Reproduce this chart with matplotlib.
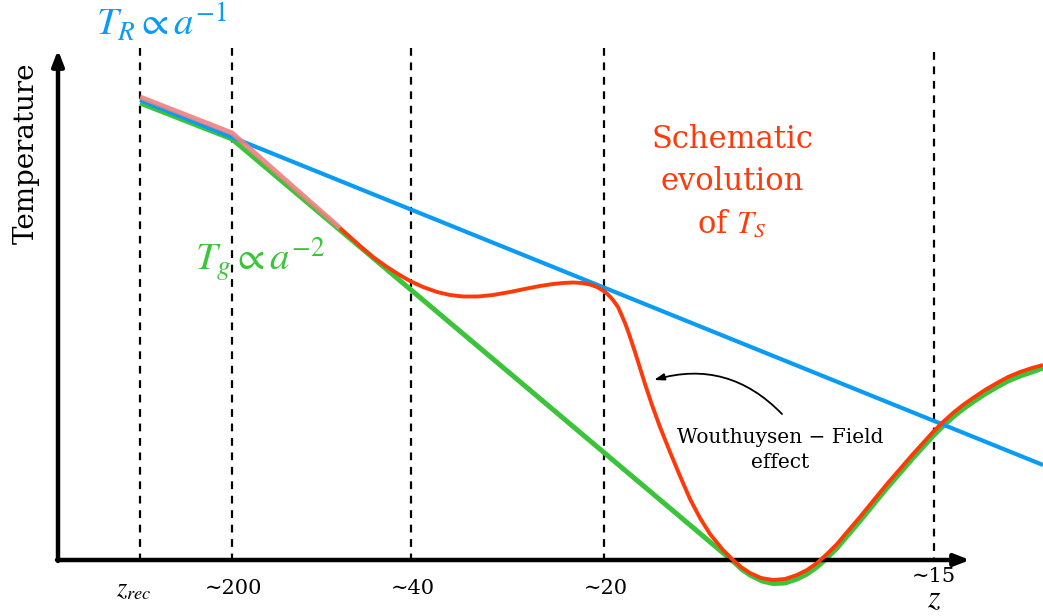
"""Schematic spin-temperature evolution sketch (T_R, T_g, T_S vs z)."""
import matplotlib.pyplot as plt

plt.rcParams["mathtext.fontset"] = "stix"

# canvas is drawn in pixel units (y grows downwards)
W, H = 1043, 616

BLUE = "#0a9bf5"
GREEN = "#3ac43a"
RED = "#ff3a0a"
PINK = "#f08080"

# redshift markers
marker_x = [140, 232, 411, 604, 934]
marker_labels = [r"$z_{rec}$", "∼200", "∼40", "∼20", "∼15"]

# radiation temperature, T_R ~ a^-1
tr_x = [140, 1043]
tr_y = [100, 465]

# gas temperature, T_g ~ a^-2 then heating
tg_x = [140, 232, 735, 742, 750, 762, 773, 785, 797, 807, 817, 827, 837, 848,
        860, 873, 887, 900, 913, 923, 933, 943, 953, 963, 973, 985, 997, 1008,
        1020, 1032, 1043]
tg_y = [103, 139, 563, 569.5, 575, 581, 583.5, 583, 579, 574, 567, 558, 548,
        535, 521, 505, 488, 473, 458, 447, 436, 426, 417, 409, 402, 394, 387,
        381, 376, 372, 368]

# spin temperature, coupled part (faded)
ts_early_x = [140, 232, 340]
ts_early_y = [97, 133, 228]

# spin temperature, schematic evolution
ts_x = [340, 350, 360, 373, 387, 398, 410, 423, 437, 450, 463, 478, 493, 510,
        527, 540, 553, 563, 573, 582, 590, 597, 603, 608, 613, 618, 622, 625,
        628, 631, 635, 640, 645, 652, 660, 670, 680, 690, 700, 710, 723, 733,
        741, 750, 761, 773, 785, 797, 807, 817, 827, 837, 848, 860, 873, 887,
        900, 913, 923, 933, 943, 953, 963, 973, 985, 997, 1008, 1020, 1032,
        1043]
ts_y = [228, 237, 246, 257, 267, 274, 281, 287, 292, 295, 296.5, 296.5, 295,
        292, 288.5, 286, 284, 283, 282.5, 283, 284.5, 287, 290.5, 294.5, 300,
        307, 316, 323, 331, 340, 352, 368, 384, 405, 427, 452, 476, 499, 518,
        534, 550, 560, 567, 573, 578, 580, 579, 575, 570, 563, 554, 544, 531,
        517, 501, 484, 469, 454, 443, 432, 422, 413, 405, 398, 390, 383, 377,
        372, 368, 365]

fig = plt.figure(figsize=(W / 100, H / 100), dpi=100)
ax = fig.add_axes([0, 0, 1, 1])
ax.set_xlim(0, W)
ax.set_ylim(H, 0)
ax.axis("off")

serif = ["DejaVu Serif"]

# axes arrows
arrow = dict(arrowstyle="-|>,head_length=0.9,head_width=0.35", lw=3.2,
             color="black", shrinkA=0, shrinkB=0)
ax.annotate("", xy=(58, 50), xytext=(58, 561), arrowprops=arrow)
ax.annotate("", xy=(970, 560), xytext=(57, 560), arrowprops=arrow)

for x, lab in zip(marker_x, marker_labels):
    top = 52 if x == 934 else 48
    ax.plot([x, x], [top, 560], ls=(0, (3.5, 3)), color="black", lw=1.6, zorder=1)
    if x == 934:
        ax.text(x, 576, lab, ha="center", va="center", fontsize=15, family=serif)
    elif x == 140:
        ax.text(x - 6, 589, lab, ha="center", va="center", fontsize=19)
    else:
        ax.text(x + 2, 589, lab, ha="center", va="center", fontsize=15, family=serif)

ax.text(934, 614, r"$z$", ha="center", va="bottom", fontsize=23)

ax.plot(tr_x, tr_y, color=BLUE, lw=3, zorder=3, solid_capstyle="butt")
ax.plot(tg_x, tg_y, color=GREEN, lw=3.6, zorder=2, solid_capstyle="butt",
        solid_joinstyle="round")
ax.plot(ts_early_x, ts_early_y, color=PINK, lw=3.6, zorder=4, alpha=0.9,
        solid_capstyle="butt")
ax.plot(ts_x, ts_y, color=RED, lw=2.8, zorder=5, solid_capstyle="butt",
        solid_joinstyle="round")

# labels
ax.text(26, 153, "Temperature", rotation=90, ha="center", va="center",
        fontsize=20, family=serif)
ax.text(162, 22, r"$T_R \propto a^{-1}$", color=BLUE, ha="center",
        va="center", fontsize=28)
ax.text(260, 260, r"$T_g \propto a^{-2}$", color=GREEN, ha="center",
        va="center", fontsize=28)
ax.text(732, 182, "Schematic\nevolution\nof $T_S$", color=RED, ha="center",
        va="center", fontsize=22, family=serif, linespacing=1.45)
ax.text(780, 450, "Wouthuysen − Field\neffect", ha="center", va="center",
        fontsize=14.5, family=serif, linespacing=1.4)
ax.annotate("", xy=(654, 380), xytext=(782, 414),
            arrowprops=dict(arrowstyle="-|>,head_length=0.6,head_width=0.2",
                            lw=1.3, color="black",
                            connectionstyle="arc3,rad=0.3",
                            shrinkA=0, shrinkB=0))

fig.savefig("out.png", dpi=100)
